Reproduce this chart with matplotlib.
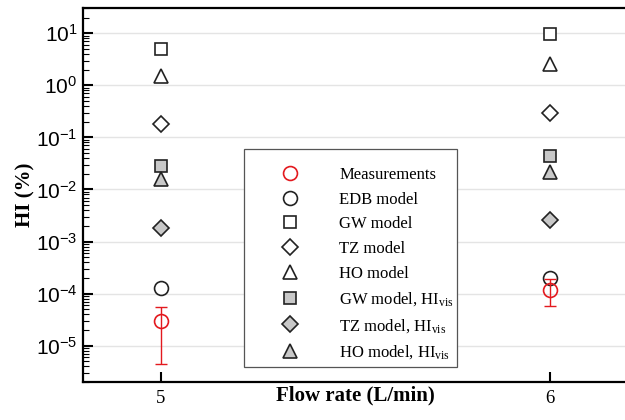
import matplotlib
matplotlib.use('Agg')
import matplotlib.pyplot as plt
from matplotlib.patches import Rectangle
import numpy as np

plt.rcParams['font.family'] = 'Liberation Serif'

flow = [5, 6]

# measured HI with error bar limits
meas = [2.98e-5, 1.19e-4]
meas_lo = [4.4e-6, 5.7e-5]
meas_hi = [5.5e-5, 1.9e-4]

# model predictions (%)
edb = [1.3e-4, 2.0e-4]
gw = [5.0, 9.7]
tz = [0.18, 0.30]
ho = [1.5, 2.57]
gw_vis = [0.0284, 0.044]
tz_vis = [1.8e-3, 2.6e-3]
ho_vis = [0.016, 0.0218]

decades = [1e-5, 1e-4, 1e-3, 1e-2, 1e-1, 1e0, 1e1]

red = '#e3191e'
grey = '#c8c8c8'

fig = plt.figure(figsize=(6.25, 4.2), dpi=100)
ax = fig.add_axes([83/625, 38/420, 545/625, 374/420])

ax.set_yscale('log')
ax.set_ylim(2.0e-6, 30.6)
ax.set_xlim(4.8, 6.2)

ax.grid(True, which='major', axis='y', color='#e4e4e4', lw=1.0, zorder=0)

ms = dict(mec='#222222', mew=1.2, ls='none', zorder=3)
ax.plot(flow, edb, 'o', ms=10, mfc='white', label='EDB model', **ms)
ax.plot(flow, gw, 's', ms=8.6, mfc='white', label='GW model', **ms)
ax.plot(flow, tz, 'D', ms=8.0, mfc='white', label='TZ model', **ms)
ax.plot(flow, ho, '^', ms=10, mfc='white', label='HO model', **ms)
ax.plot(flow, gw_vis, 's', ms=8.6, mfc=grey, label=r'GW model, $\mathregular{HI_{vis}}$', **ms)
ax.plot(flow, tz_vis, 'D', ms=8.0, mfc=grey, label=r'TZ model, $\mathregular{HI_{vis}}$', **ms)
ax.plot(flow, ho_vis, '^', ms=10, mfc=grey, label=r'HO model, $\mathregular{HI_{vis}}$', **ms)

# measurements with error bars on top
yerr = [np.array(meas) - np.array(meas_lo), np.array(meas_hi) - np.array(meas)]
ax.errorbar(flow, meas, yerr=yerr, fmt='none', ecolor=red, elinewidth=1.0, capsize=4, capthick=1.0, zorder=4)
ax.plot(flow, meas, 'o', ms=10, mfc='none', mec=red, mew=1.2, ls='none', zorder=5, label='Measurements')

for s in ax.spines.values():
    s.set_linewidth(1.6)

ax.set_xticks(flow)
ax.set_yticks(decades)
ax.yaxis.set_minor_locator(matplotlib.ticker.LogLocator(base=10, subs=np.arange(2, 10), numticks=20))
ax.yaxis.set_minor_formatter(matplotlib.ticker.NullFormatter())
ax.tick_params(axis='both', which='major', direction='in', length=7, width=1.5)
ax.tick_params(axis='y', which='minor', direction='in', length=4, width=0.8)
ax.tick_params(axis='x', labelsize=13.5, pad=6)
ax.tick_params(axis='y', labelsize=15, labelfontfamily='Liberation Sans', pad=4)

ax.set_xlabel('Flow rate (L/min)', fontsize=15, fontweight='bold', va='center')
ax.xaxis.set_label_coords(0.5, -0.037)
ax.set_ylabel('HI (%)', fontsize=15, fontweight='bold', labelpad=0)

# legend box drawn separately so the padding can be set freely
box = Rectangle((244/625, 1 - 367/420), 213/625, 218/420, transform=fig.transFigure,
                facecolor='white', edgecolor='#555555', lw=0.9, zorder=5.5)
ax.add_artist(box)

handles, labels = ax.get_legend_handles_labels()
order = [7, 0, 1, 2, 3, 4, 5, 6]
leg = ax.legend([handles[i] for i in order], [labels[i] for i in order],
                loc='upper left', bbox_to_anchor=(250.7/625, 1 - 167/420),
                bbox_transform=fig.transFigure, borderaxespad=0,
                fontsize=12, frameon=False, handlelength=4.7, handletextpad=0.6,
                borderpad=0, labelspacing=0.52, numpoints=1)
leg.set_zorder(6)

fig.savefig('out.png', dpi=100)
